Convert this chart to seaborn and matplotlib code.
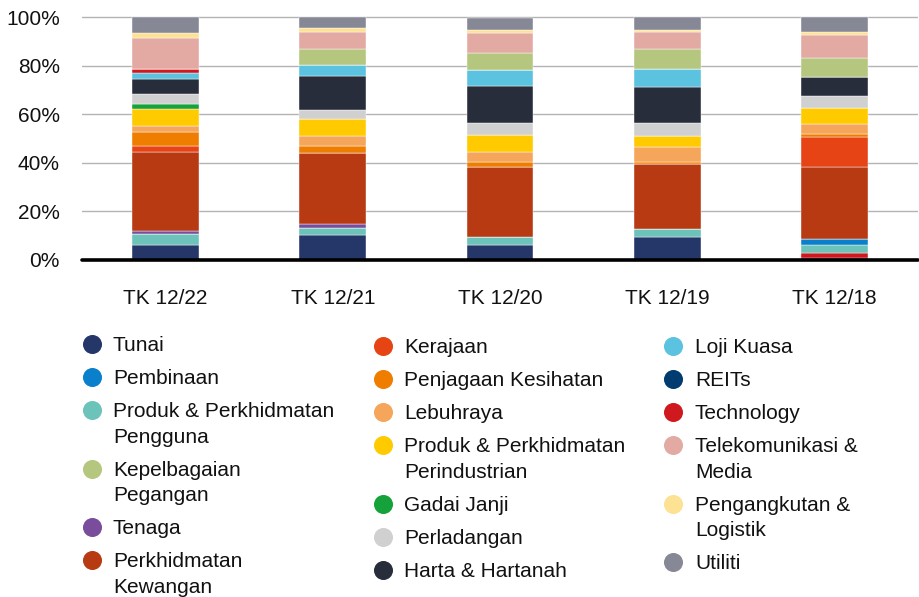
import pandas as pd
import seaborn as sns
import matplotlib.pyplot as plt
from matplotlib.lines import Line2D

# DATA (percent of portfolio)
periods = ["TK 12/22", "TK 12/21", "TK 12/20", "TK 12/19", "TK 12/18"]

sectors = [
    "Tunai", "Pembinaan", "Produk & Perkhidmatan\nPengguna", "Kepelbagaian\nPegangan",
    "Tenaga", "Perkhidmatan\nKewangan", "Kerajaan", "Penjagaan Kesihatan", "Lebuhraya",
    "Produk & Perkhidmatan\nPerindustrian", "Gadai Janji", "Perladangan", "Harta & Hartanah",
    "Loji Kuasa", "REITs", "Technology", "Telekomunikasi &\nMedia",
    "Pengangkutan &\nLogistik", "Utiliti",
]

tunai = [6.3, 10.1, 6.3, 9.5, 0.8]
pembinaan = [0, 0, 0, 0, 2.7]
produk_pengguna = [4.4, 3.2, 3.3, 3.2, 3.0]
kepelbagaian = [0, 6.5, 7.0, 7.9, 7.9]
tenaga = [1.4, 1.4, 0, 0, 0]
kewangan = [32.4, 29.5, 28.7, 26.8, 29.8]
kerajaan = [2.5, 0, 0, 0, 12.1]
kesihatan = [5.8, 2.9, 2.1, 0.7, 1.4]
lebuhraya = [2.5, 3.9, 4.1, 6.2, 3.9]
perindustrian = [6.9, 6.9, 7.0, 4.8, 6.7]
gadai_janji = [1.9, 0, 0, 0, 0]
perladangan = [4.4, 3.9, 5.1, 5.1, 5.1]
harta = [6.1, 13.9, 15.0, 15.1, 7.7]
loji_kuasa = [2.5, 4.8, 6.7, 7.5, 0]
reits = [0, 0, 0, 0, 0]
technology = [1.5, 0, 0, 0, 2.2]
telekom = [12.9, 6.9, 8.3, 7.3, 9.4]
pengangkutan = [2.1, 1.7, 1.1, 0.7, 1.4]
utiliti = [6.5, 4.7, 5.2, 5.3, 5.9]

values = [tunai, pembinaan, produk_pengguna, kepelbagaian, tenaga, kewangan, kerajaan,
          kesihatan, lebuhraya, perindustrian, gadai_janji, perladangan, harta, loji_kuasa,
          reits, technology, telekom, pengangkutan, utiliti]

colors = ["#253669", "#0a80cc", "#6cc3b9", "#b5c67f", "#7a4c9c", "#b83a12", "#e64415",
          "#ef7d00", "#f5a65b", "#ffcb00", "#16a23a", "#d0d0d0", "#272d3a", "#5bc2e0",
          "#003c70", "#d0191f", "#e3aaa4", "#fde293", "#868896"]

# stacking order bottom -> top (index into sectors)
stack_order = [0, 2, 1, 4, 5, 6, 7, 8, 9, 10, 11, 12, 13, 15, 14, 3, 16, 17, 18]
# in 12/18 the Technology slice sits near the bottom
stack_order_1218 = [0, 15, 2, 1, 4, 5, 6, 7, 8, 9, 10, 11, 12, 13, 14, 3, 16, 17, 18]

# legend columns (index into sectors)
legend_cols = [[0, 1, 2, 3, 4, 5], [6, 7, 8, 9, 10, 11, 12], [13, 14, 15, 16, 17, 18]]

rows = []
for i, p in enumerate(periods):
    order = stack_order_1218 if p == "TK 12/18" else stack_order
    bottom = 0
    for k in order:
        v = values[k][i]
        rows.append({"period": i, "sector": sectors[k], "value": v,
                     "bottom": bottom, "color": colors[k]})
        bottom += v
df = pd.DataFrame(rows)

# PLOT
sns.set_style("white")
plt.rcParams["font.family"] = ["Liberation Sans", "DejaVu Sans"]

W, H = 920, 597
fig = plt.figure(figsize=(W / 100, H / 100), dpi=100)
ax = fig.add_axes([0.089, 0.5645, 0.909, 0.4106])

ax.bar(df["period"], df["value"], bottom=df["bottom"], color=df["color"],
       width=0.4, edgecolor="white", linewidth=0.3, zorder=3)

ax.set_xlim(-0.5, 4.5)
ax.set_ylim(0, 101)
ax.set_yticks([0, 20, 40, 60, 80, 100])
ax.set_yticklabels([f"{t}%" for t in [0, 20, 40, 60, 80, 100]])
ax.set_xticks(range(len(periods)))
ax.set_xticklabels(periods)
ax.tick_params(axis="y", length=0, pad=16, labelsize=15, labelcolor="#111111")
ax.tick_params(axis="x", length=0, pad=21, labelsize=15, labelcolor="#111111")
ax.yaxis.grid(True, color="#b3b3b3", linewidth=1)
ax.set_axisbelow(True)
for s in ax.spines.values():
    s.set_visible(False)
ax.axhline(0, color="black", linewidth=2.6, clip_on=False, zorder=4)

# legend drawn by hand: marker on the first line, columns stack independently
col_marker_x = [92.5, 383, 673.5]
col_text_x = [113, 404, 695]
col_top_y = [344, 346, 346]
item_step, line_step = 33, 25.5
for c, items in enumerate(legend_cols):
    y = col_top_y[c]
    for k in items:
        lines = sectors[k].split("\n")
        fig.add_artist(Line2D([col_marker_x[c] / W], [1 - y / H], transform=fig.transFigure,
                              ls="", marker="o", ms=13.7, markeredgewidth=0,
                              color=colors[k]))
        for j, line in enumerate(lines):
            yy = y + j * line_step
            fig.text(col_text_x[c] / W, 1 - (yy + 7.3) / H, line, fontsize=15,
                     color="#111111", ha="left", va="baseline")
        y += item_step + (len(lines) - 1) * line_step

plt.savefig("out.png", dpi=100)
